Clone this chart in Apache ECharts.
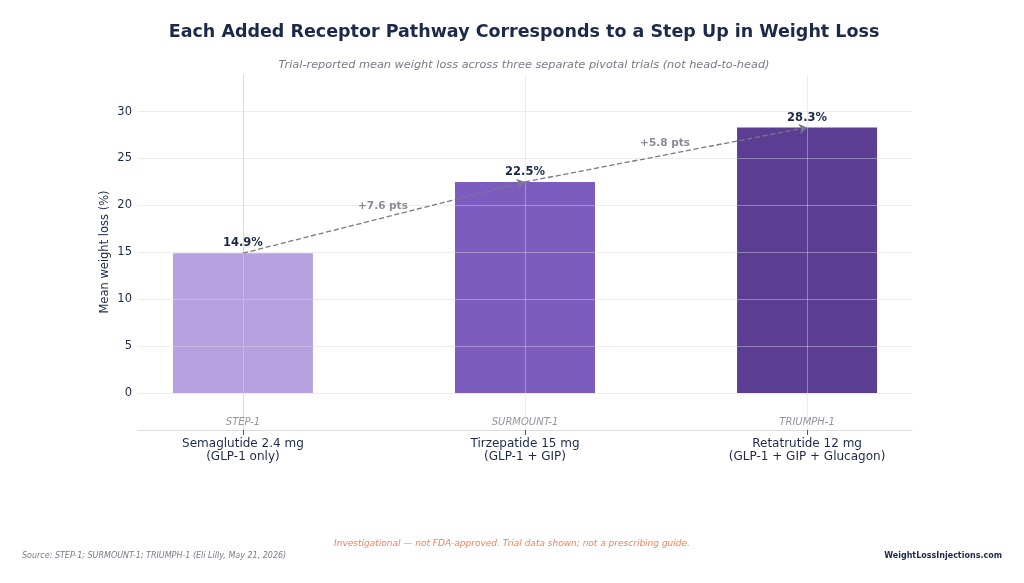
<!DOCTYPE html>
<html><head><meta charset="utf-8">
<script src="https://cdn.jsdelivr.net/npm/echarts@6/dist/echarts.min.js"></script>
<style>html,body{margin:0;padding:0;background:#fff}#c{width:1024px;height:583px}</style>
</head><body><div id="c"></div>
<script>
const drugs = ['Semaglutide 2.4 mg\n(GLP-1 only)', 'Tirzepatide 15 mg\n(GLP-1 + GIP)', 'Retatrutide 12 mg\n(GLP-1 + GIP + Glucagon)'];
const trials = ['STEP-1', 'SURMOUNT-1', 'TRIUMPH-1'];
const loss = [14.9, 22.5, 28.3];
const stepLabels = ['+7.6 pts', '+5.8 pts'];
const yTicks = [0, 5, 10, 15, 20, 25, 30];
const colors = ['#b7a1e0', '#7c5cbf', '#5b3d94'];
const navy = '#1b2a4a';
const gridCol = 'rgba(215,215,225,0.45)';
const FF = 'DejaVu Sans';

const chart = echarts.init(document.getElementById('c'));
const bars = loss.map((v, i) => ({value: [i, v], itemStyle: {color: colors[i]}}));
const segs = [];
const mids = [];
for (let i = 0; i < loss.length - 1; i++) {
  segs.push([{coord: [i, loss[i]]}, {coord: [i + 1, loss[i + 1]]}]);
  mids.push([i + 0.5, (loss[i] + loss[i + 1]) / 2]);
}
const grid = yTicks.map(v => ({yAxis: v}));
const vgrid = [0, 1, 2].map(v => ({xAxis: v}));
chart.setOption({
  animation: false,
  title: [
    {text: 'Each Added Receptor Pathway Corresponds to a Step Up in Weight Loss', left: 519, textAlign: 'center', top: 18,
     textStyle: {fontSize: 17.5, fontWeight: 'bold', color: navy, fontFamily: FF}},
    {text: 'Trial-reported mean weight loss across three separate pivotal trials (not head-to-head)', left: 519, textAlign: 'center', top: 55,
     textStyle: {fontSize: 11.3, fontStyle: 'italic', fontWeight: 'normal', color: '#777a88', fontFamily: FF}}
  ],
  graphic: [
    {type: 'text', x: 105, y: 252, rotation: Math.PI / 2, style: {text: 'Mean weight loss (%)', fill: navy, font: '11.5px DejaVu Sans', align: 'center', verticalAlign: 'middle'}},
    {type: 'text', left: 'center', top: 539, style: {text: 'Investigational — not FDA-approved. Trial data shown; not a prescribing guide.', fill: '#e8845c', font: 'italic 9px DejaVu Sans'}},
    {type: 'text', left: 22, top: 552, style: {text: 'Source: STEP-1; SURMOUNT-1; TRIUMPH-1 (Eli Lilly, May 21, 2026)', fill: '#777a88', font: 'italic 8px DejaVu Sans'}},
    {type: 'text', right: 22, top: 552, style: {text: 'WeightLossInjections.com', fill: navy, font: 'bold 8px DejaVu Sans'}}
  ],
  grid: {left: 138, right: 112, top: 75, bottom: 153},
  xAxis: {type: 'value', min: -0.372, max: 2.372,
    axisLine: {show: true, onZero: false, lineStyle: {color: '#dddddd'}},
    axisTick: {show: true, customValues: [0, 1, 2], length: 5, lineStyle: {color: '#555'}},
    axisLabel: {customValues: [0, 1, 2], formatter: v => drugs[Math.round(v)], color: navy, fontSize: 12, fontFamily: FF, margin: 7, lineHeight: 13},
    splitLine: {show: false}},
  yAxis: {type: 'value', min: -3.95, max: 33.9,
    axisLine: {show: true, lineStyle: {color: '#dddddd'}},
    axisTick: {show: false},
    axisLabel: {customValues: yTicks, color: navy, fontSize: 11.5, fontFamily: FF, margin: 6},
    splitLine: {show: false}},
  series: [
    {type: 'bar', data: bars, barWidth: 140, z: 2,
     label: {show: true, position: 'top', distance: 4, formatter: p => p.value[1].toFixed(1) + '%', color: navy, fontWeight: 'bold', fontSize: 11.5, fontFamily: FF},
     markLine: {silent: true, symbol: 'none', z: 3, label: {show: false}, lineStyle: {color: gridCol, type: 'solid', width: 1}, data: grid.concat(vgrid)}},
    {type: 'scatter', symbolSize: 0, data: trials.map((t, i) => [i, -3.1]), z: 4,
     label: {show: true, position: 'inside', formatter: p => trials[p.dataIndex], color: '#777a88', fontStyle: 'italic', fontSize: 10, fontFamily: FF}},
    {type: 'scatter', symbolSize: 0, data: mids, z: 6,
     label: {show: true, position: 'inside', offset: [-1, -11], formatter: p => stepLabels[p.dataIndex], color: '#6c6f7e', fontWeight: 'bold', fontSize: 10.5, fontFamily: FF}},
    {type: 'line', data: [], z: 5,
     markLine: {silent: true, symbol: ['none', 'arrow'], symbolSize: 8, z: 5,
       lineStyle: {color: '#777a88', type: 'dashed', width: 1.3},
       label: {show: false},
       data: segs}}
  ]
});
</script></body></html>
